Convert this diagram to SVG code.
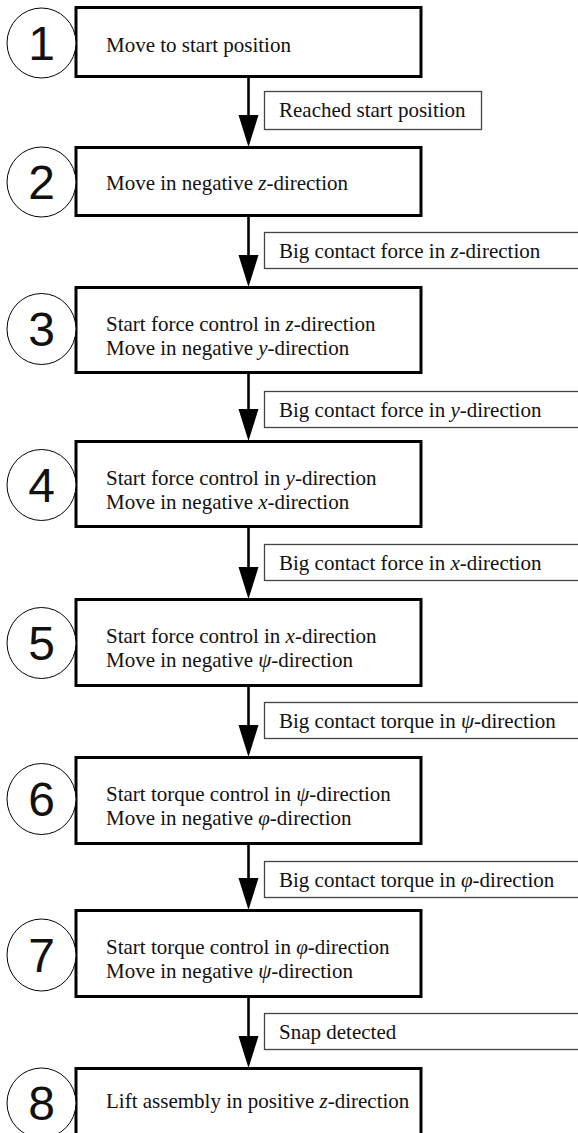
<svg xmlns="http://www.w3.org/2000/svg" width="578" height="1133" viewBox="0 0 578 1133">
<style>
.box{fill:#fff;stroke:#000;stroke-width:3}
.lbl{fill:#fff;stroke:#444;stroke-width:1.3}
.circ{fill:#fff;stroke:#000;stroke-width:1}
.num{font-family:"Liberation Sans",Arial,sans-serif;font-size:48px;fill:#111;text-anchor:middle}
.t{font-family:"Liberation Serif","Times New Roman",serif;font-size:21px;fill:#111}
.i{font-style:italic}
.shaft{stroke:#000;stroke-width:2.6;fill:none}
.head{fill:#000}
</style>
<rect width="578" height="1133" fill="#fff"/>
<g id="connectors">
<line class="shaft" x1="248.5" y1="78" x2="248.5" y2="116"/><polygon class="head" points="238.5,115 258.5,115 248.5,147"/>
<line class="shaft" x1="248.5" y1="217" x2="248.5" y2="256"/><polygon class="head" points="238.5,255 258.5,255 248.5,287"/>
<line class="shaft" x1="248.5" y1="374" x2="248.5" y2="410"/><polygon class="head" points="238.5,409 258.5,409 248.5,441"/>
<line class="shaft" x1="248.5" y1="528" x2="248.5" y2="568"/><polygon class="head" points="238.5,567 258.5,567 248.5,599"/>
<line class="shaft" x1="248.5" y1="687" x2="248.5" y2="726"/><polygon class="head" points="238.5,725 258.5,725 248.5,757"/>
<line class="shaft" x1="248.5" y1="844" x2="248.5" y2="879"/><polygon class="head" points="238.5,878 258.5,878 248.5,910"/>
<line class="shaft" x1="248.5" y1="997" x2="248.5" y2="1037"/><polygon class="head" points="238.5,1036 258.5,1036 248.5,1068"/>
</g>
<g id="label1"><rect class="lbl" x="264.5" y="91.5" width="217" height="38"/><text class="t" x="279" y="117">Reached start position</text></g>
<g id="label2"><rect class="lbl" x="264.5" y="232.5" width="330" height="36"/><text class="t" x="279" y="258">Big contact force in <tspan class="i">z</tspan>-direction</text></g>
<g id="label3"><rect class="lbl" x="264.5" y="391.5" width="330" height="36"/><text class="t" x="279" y="417">Big contact force in <tspan class="i">y</tspan>-direction</text></g>
<g id="label4"><rect class="lbl" x="264.5" y="544.5" width="330" height="36"/><text class="t" x="279" y="570">Big contact force in <tspan class="i">x</tspan>-direction</text></g>
<g id="label5"><rect class="lbl" x="264.5" y="702.5" width="330" height="36"/><text class="t" x="279" y="728">Big contact torque in <tspan class="i">ψ</tspan>-direction</text></g>
<g id="label6"><rect class="lbl" x="264.5" y="861.5" width="330" height="36"/><text class="t" x="279" y="887">Big contact torque in <tspan class="i">φ</tspan>-direction</text></g>
<g id="label7"><rect class="lbl" x="264.5" y="1013.5" width="330" height="36"/><text class="t" x="279" y="1039">Snap detected</text></g>
<g id="step1"><rect class="box" x="76" y="7.5" width="345" height="69"/><ellipse class="circ" cx="41.5" cy="43" rx="34.5" ry="35"/><text class="num" x="41.5" y="60">1</text><text class="t" x="106" y="52">Move to start position</text></g>
<g id="step2"><rect class="box" x="76" y="147.5" width="345" height="68"/><ellipse class="circ" cx="41.5" cy="182" rx="34.5" ry="35"/><text class="num" x="41.5" y="199">2</text><text class="t" x="106" y="190">Move in negative <tspan class="i">z</tspan>-direction</text></g>
<g id="step3"><rect class="box" x="76" y="287.5" width="345" height="85"/><ellipse class="circ" cx="41.5" cy="329" rx="34.5" ry="35.5"/><text class="num" x="41.5" y="346">3</text><text class="t" x="106" y="331">Start force control in <tspan class="i">z</tspan>-direction</text><text class="t" x="106" y="354.5">Move in negative <tspan class="i">y</tspan>-direction</text></g>
<g id="step4"><rect class="box" x="76" y="441.5" width="345" height="85"/><ellipse class="circ" cx="41.5" cy="485" rx="34.5" ry="35.5"/><text class="num" x="41.5" y="502">4</text><text class="t" x="106" y="485">Start force control in <tspan class="i">y</tspan>-direction</text><text class="t" x="106" y="508.5">Move in negative <tspan class="i">x</tspan>-direction</text></g>
<g id="step5"><rect class="box" x="76" y="599.5" width="345" height="86"/><ellipse class="circ" cx="41.5" cy="643" rx="34.5" ry="35.5"/><text class="num" x="41.5" y="660">5</text><text class="t" x="106" y="643">Start force control in <tspan class="i">x</tspan>-direction</text><text class="t" x="106" y="666.5">Move in negative <tspan class="i">ψ</tspan>-direction</text></g>
<g id="step6"><rect class="box" x="76" y="757.5" width="345" height="86"/><ellipse class="circ" cx="41.5" cy="799" rx="34.5" ry="35.5"/><text class="num" x="41.5" y="816">6</text><text class="t" x="106" y="801">Start torque control in <tspan class="i">ψ</tspan>-direction</text><text class="t" x="106" y="824.5">Move in negative <tspan class="i">φ</tspan>-direction</text></g>
<g id="step7"><rect class="box" x="76" y="910.5" width="345" height="86"/><ellipse class="circ" cx="41.5" cy="955" rx="34.5" ry="36"/><text class="num" x="41.5" y="972">7</text><text class="t" x="106" y="954">Start torque control in <tspan class="i">φ</tspan>-direction</text><text class="t" x="106" y="977.5">Move in negative <tspan class="i">ψ</tspan>-direction</text></g>
<g id="step8"><rect class="box" x="76" y="1068.5" width="345" height="75"/><ellipse class="circ" cx="41.5" cy="1103" rx="34.5" ry="35"/><text class="num" x="41.5" y="1120">8</text><text class="t" x="106" y="1108">Lift assembly in positive <tspan class="i">z</tspan>-direction</text></g>
</svg>
